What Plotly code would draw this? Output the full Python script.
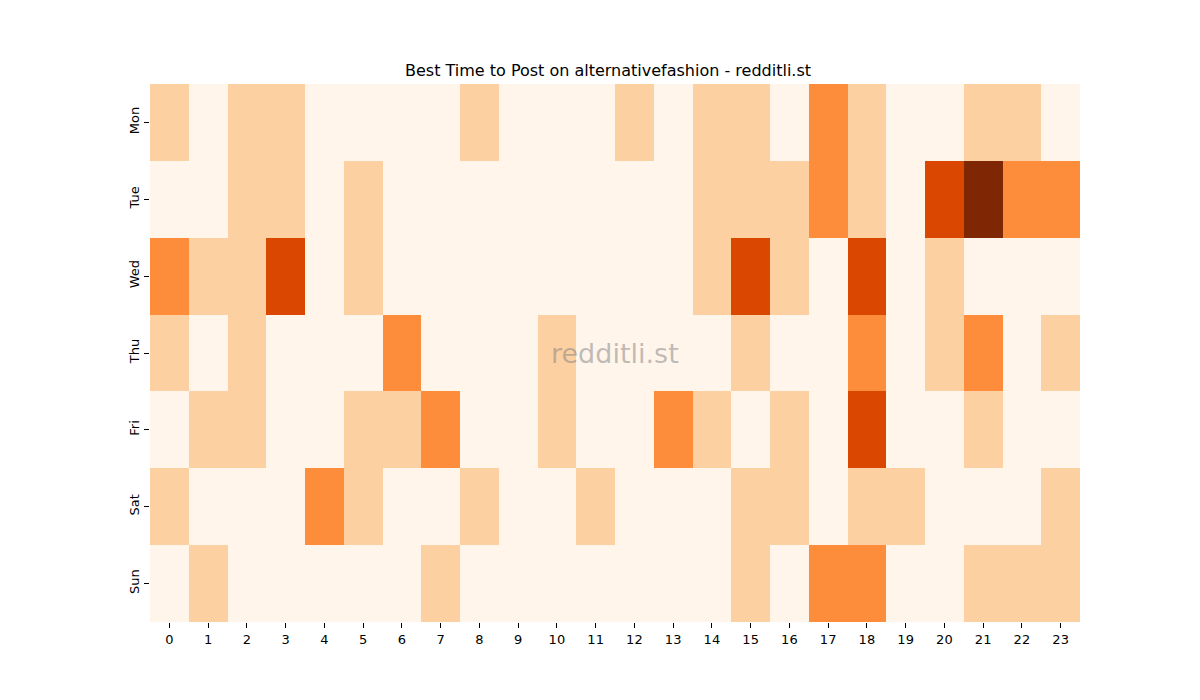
import plotly.graph_objects as go

days = ["Mon", "Tue", "Wed", "Thu", "Fri", "Sat", "Sun"]
hours = list(range(24))

mon = [1, 0, 1, 1, 0, 0, 0, 0, 1, 0, 0, 0, 1, 0, 1, 1, 0, 2, 1, 0, 0, 1, 1, 0]
tue = [0, 0, 1, 1, 0, 1, 0, 0, 0, 0, 0, 0, 0, 0, 1, 1, 1, 2, 1, 0, 3, 4, 2, 2]
wed = [2, 1, 1, 3, 0, 1, 0, 0, 0, 0, 0, 0, 0, 0, 1, 3, 1, 0, 3, 0, 1, 0, 0, 0]
thu = [1, 0, 1, 0, 0, 0, 2, 0, 0, 0, 1, 0, 0, 0, 0, 1, 0, 0, 2, 0, 1, 2, 0, 1]
fri = [0, 1, 1, 0, 0, 1, 1, 2, 0, 0, 1, 0, 0, 2, 1, 0, 1, 0, 3, 0, 0, 1, 0, 0]
sat = [1, 0, 0, 0, 2, 1, 0, 0, 1, 0, 0, 1, 0, 0, 0, 1, 1, 0, 1, 1, 0, 0, 0, 1]
sun = [0, 1, 0, 0, 0, 0, 0, 1, 0, 0, 0, 0, 0, 0, 0, 1, 0, 2, 2, 0, 0, 1, 1, 1]

z = [mon, tue, wed, thu, fri, sat, sun]

# Oranges colormap sampled at the five levels
oranges = [
    [0.0, "#fff5eb"],
    [0.25, "#fdd0a2"],
    [0.5, "#fd8c3b"],
    [0.75, "#d94701"],
    [1.0, "#7f2704"],
]

fig = go.Figure(go.Heatmap(
    z=z, x=hours, y=days,
    colorscale=oranges, zmin=0, zmax=4,
    showscale=False, xgap=0, ygap=0,
))

font = "DejaVu Sans, sans-serif"
fig.update_layout(
    width=1200, height=700,
    margin=dict(l=142, r=128, t=76, b=86),
    paper_bgcolor="white", plot_bgcolor="white",
    font=dict(family=font, size=13, color="black"),
    title=dict(text="Best Time to Post on alternativefashion - redditli.st",
               x=0.5, xanchor="center", y=1 - 62 / 700, yanchor="middle",
               font=dict(size=16, family=font, color="black")),
    annotations=[dict(text="redditli.st", x=0.5, y=0.5, xref="paper", yref="paper",
                      showarrow=False, font=dict(size=27, family=font, color="rgba(128,128,128,0.5)"))],
)
fig.update_xaxes(tickmode="array", tickvals=hours, ticktext=[str(h) for h in hours],
                 ticks="outside", ticklen=5, tickcolor="black", showgrid=False,
                 zeroline=False, showline=False)
fig.update_yaxes(autorange="reversed", ticks="outside", ticklen=5, tickcolor="black",
                 tickangle=-90, showgrid=False, zeroline=False, showline=False)

fig.write_html("out.html")
